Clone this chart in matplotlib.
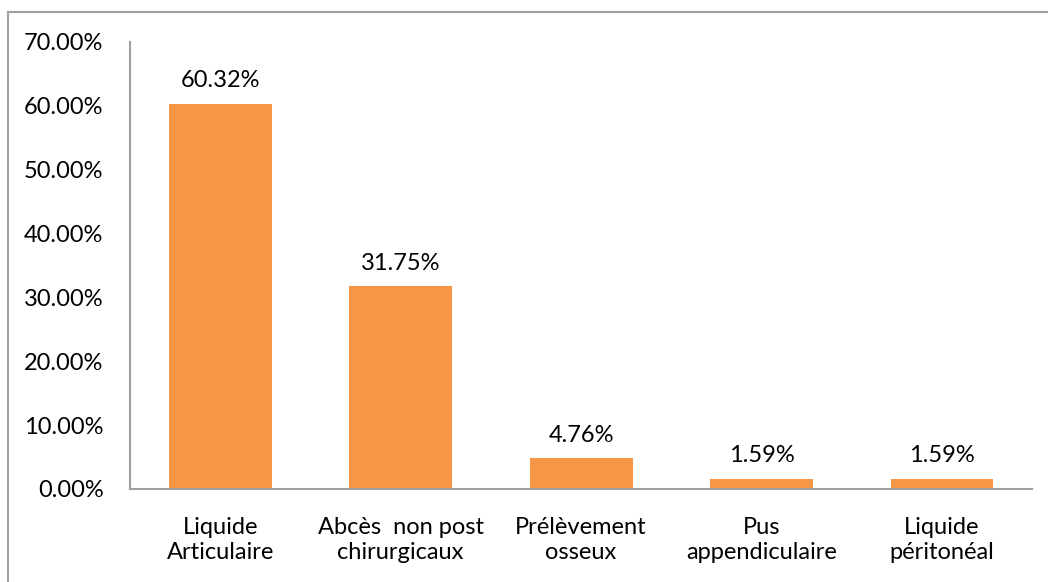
import matplotlib
matplotlib.use('Agg')
import matplotlib.pyplot as plt
from matplotlib.patches import Rectangle
from matplotlib.ticker import FuncFormatter

# Data
categories = ["Liquide\nArticulaire", "Abcès  non post\nchirurgicaux", "Prélèvement\nosseux",
              "Pus\nappendiculaire", "Liquide\npéritonéal"]
percentages = [60.32, 31.75, 4.76, 1.59, 1.59]

plt.rcParams['font.family'] = ['Lato', 'DejaVu Sans']

fig = plt.figure(figsize=(10.48, 5.82), dpi=100)
ax = fig.add_axes([0.124, 0.160, 0.861, 0.768])

x = list(range(len(categories)))
bars = ax.bar(x, percentages, width=0.57, color='#F79646', zorder=2)

# value labels above bars
for xi, v in zip(x, percentages):
    ax.annotate(f"{v:.2f}%", (xi, v), xytext=(0, 9), textcoords='offset points',
                ha='center', va='bottom', fontsize=17, color='#000000')

ax.set_xlim(-0.5, len(categories) - 0.5)
ax.set_ylim(0, 70)
ax.set_yticks(range(0, 71, 10))
ax.yaxis.set_major_formatter(FuncFormatter(lambda v, p: f"{v:.2f}%"))
ax.set_xticks(x)
ax.set_xticklabels(categories, linespacing=1.28)
ax.tick_params(axis='both', length=0, labelsize=17, colors='#000000')
ax.tick_params(axis='x', pad=20)
ax.tick_params(axis='y', pad=19)

for side in ['top', 'right']:
    ax.spines[side].set_visible(False)
for side in ['left', 'bottom']:
    ax.spines[side].set_color('#a0a0a0')
    ax.spines[side].set_linewidth(1.5)

# outer chart border (right and bottom cropped in original)
fig.patches.append(Rectangle((8 / 1048, -0.1), 1.2, 1.1 - 12 / 582,
                             transform=fig.transFigure, fill=False,
                             edgecolor='#a0a0a0', linewidth=1.5))

fig.savefig('out.png', dpi=100)
